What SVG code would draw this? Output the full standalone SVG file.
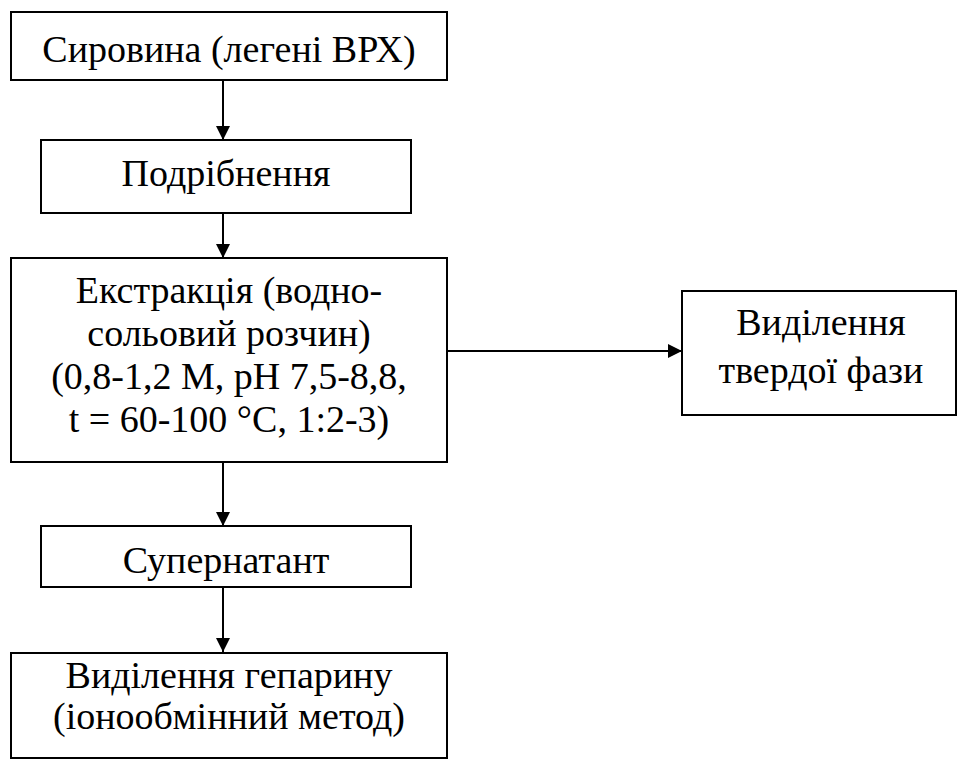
<svg xmlns="http://www.w3.org/2000/svg" width="958" height="760" viewBox="0 0 958 760">
<style>
.box{fill:#fff;stroke:#000;stroke-width:2}
.c{stroke:#000;stroke-width:2;fill:none;marker-end:url(#ah)}
.t{font-family:"Times New Roman","Liberation Serif",Tinos,"DejaVu Serif",serif;font-size:38px;fill:#000;text-anchor:middle}
</style>
<defs>
<marker id="ah" markerWidth="14" markerHeight="14" refX="14" refY="7" orient="auto" markerUnits="userSpaceOnUse">
<path d="M0,0 L14,7 L0,14 Z" fill="#000"/>
</marker>
</defs>
<rect width="958" height="760" fill="#fff"/>
<g id="connectors">
<line class="c" x1="223" y1="80" x2="223" y2="140"/>
<line class="c" x1="223" y1="213" x2="223" y2="258"/>
<line class="c" x1="447" y1="351" x2="682" y2="351"/>
<line class="c" x1="223" y1="462" x2="223" y2="526"/>
<line class="c" x1="223" y1="587" x2="223" y2="652"/>
</g>
<g id="n1">
<rect class="box" x="11" y="12" width="436" height="68"/>
<text class="t" x="229" y="62">Сировина (легені ВРХ)</text>
</g>
<g id="n2">
<rect class="box" x="41" y="140" width="370" height="73"/>
<text class="t" x="226" y="186">Подрібнення</text>
</g>
<g id="n3">
<rect class="box" x="11" y="258" width="436" height="204"/>
<text class="t" x="229" y="303">Екстракція (водно-</text>
<text class="t" x="229" y="346">сольовий розчин)</text>
<text class="t" x="229" y="389">(0,8-1,2 М, рН 7,5-8,8,</text>
<text class="t" x="229" y="432">t = 60-100 °С, 1:2-3)</text>
</g>
<g id="n4">
<rect class="box" x="682" y="291" width="274" height="124"/>
<text class="t" x="821" y="335">Виділення</text>
<text class="t" x="821" y="383">твердої фази</text>
</g>
<g id="n5">
<rect class="box" x="41" y="526" width="370" height="61"/>
<text class="t" x="226" y="573">Супернатант</text>
</g>
<g id="n6">
<rect class="box" x="11" y="653" width="436" height="105"/>
<text class="t" x="229" y="688">Виділення гепарину</text>
<text class="t" x="229" y="729">(іонообмінний метод)</text>
</g>
</svg>
